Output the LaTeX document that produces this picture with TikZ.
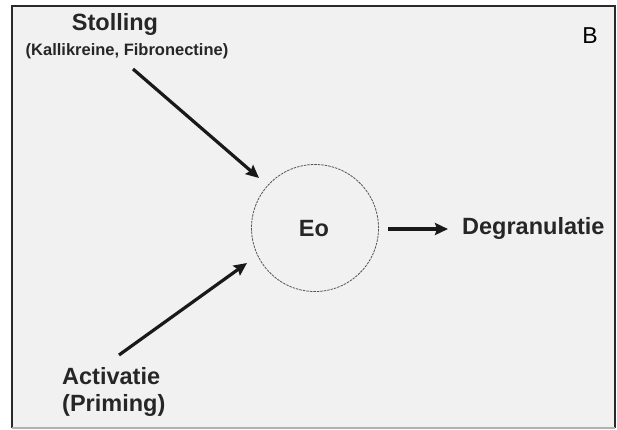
\documentclass[tikz,border=0pt]{standalone}
\usepackage{fontspec}
\setmainfont{Liberation Sans}
\usetikzlibrary{arrows.meta}
\definecolor{panel}{HTML}{F1F1F1}
\definecolor{frameline}{HTML}{2A2A2A}
\definecolor{circleline}{HTML}{555555}
\tikzset{
  bigtext/.style={font=\bfseries\fontsize{23.5}{27}\selectfont, text=black!85, inner sep=0pt},
  smalltext/.style={font=\bfseries\fontsize{16.5}{19}\selectfont, text=black!85, inner sep=0pt},
  arr/.style={line width=3.2pt, black!90, -{Stealth[length=13pt,width=12pt,inset=2pt]}, shorten >=0pt},
}
\begin{document}
\begin{tikzpicture}[x=1pt,y=-1pt]
\useasboundingbox (0,0) rectangle (617,429);
\fill[white] (0,0) rectangle (617,429);
\fill[panel] (12,6) rectangle (615,428);
\draw[line width=2pt, frameline] (12,428) -- (12,6) -- (615,6) -- (615,428);
\draw[line width=1.2pt, gray!60] (12,428) -- (615,428);

\node[circle, draw=circleline, line width=0.8pt, dash pattern=on 2.5pt off 1pt, minimum size=127pt, inner sep=0pt] (eo) at (315,228) {};
\node[bigtext] (eotext) at (314,229) {Eo};
\node[bigtext, anchor=west] (degr) at (462,228) {Degranulatie};
\node[bigtext] (stol) at (115,24) {Stolling};
\node[smalltext] (kal) at (127,51) {(Kallikreine, Fibronectine)};
\node[bigtext, align=left, anchor=north west] (act) at (62,367) {Activatie\\(Priming)};
\node[font=\fontsize{23}{26}\selectfont, inner sep=0pt] (B) at (590,36) {B};

\coordinate (s1) at (133,69);
\coordinate (s2) at (259,178);
\coordinate (a1) at (119,355);
\coordinate (a2) at (247,263);
\coordinate (d1) at (388,229);
\coordinate (d2) at (448,229);
\draw[arr] (s1) -- (s2);
\draw[arr] (a1) -- (a2);
\draw[arr] (d1) -- (d2);
\end{tikzpicture}
\end{document}
